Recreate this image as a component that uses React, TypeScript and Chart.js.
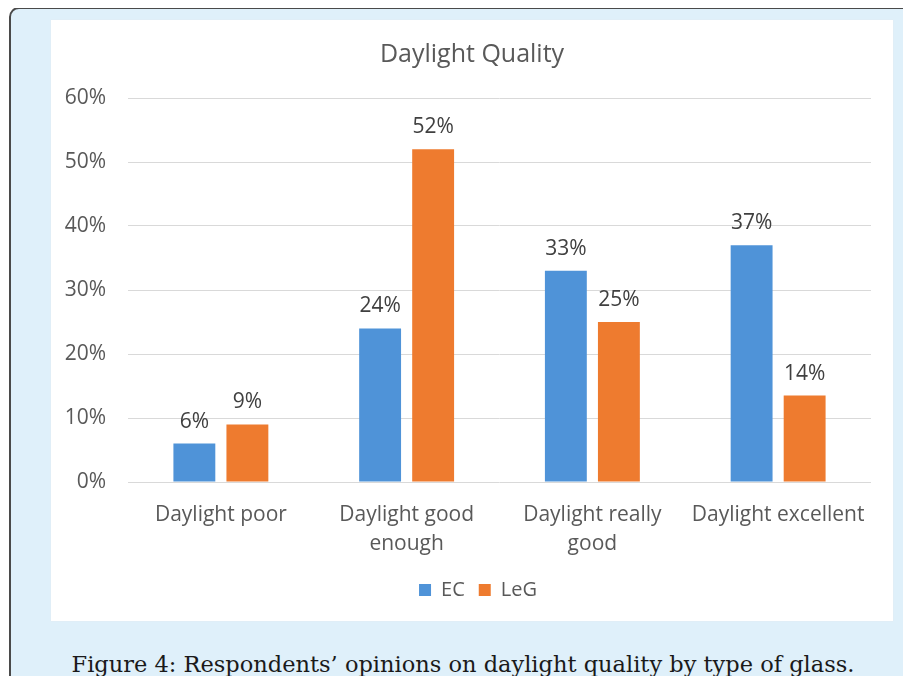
import React, { useEffect, useRef } from "react";
import { Chart, registerables } from "chart.js";

Chart.register(...registerables);

const chartTitle = "Daylight Quality";
const categories: string[][] = [
  ["Daylight poor"],
  ["Daylight good", "enough"],
  ["Daylight really", "good"],
  ["Daylight excellent"],
];
const seriesNames = ["EC", "LeG"];
const ecValues = [0.06, 0.24, 0.33, 0.37];
const legValues = [0.09, 0.52, 0.25, 0.135];
const ecLabels = ["6%", "24%", "33%", "37%"];
const legLabels = ["9%", "52%", "25%", "14%"];
const yTicks = [0, 0.1, 0.2, 0.3, 0.4, 0.5, 0.6];

const FONT = "'Open Sans', sans-serif";

const extrasPlugin = {
  id: "extras",
  afterLayout(chart: any) {
    if (chart.legend) {
      chart.legend.left += 17;
      chart.legend.right += 17;
    }
  },
  afterDraw(chart: any) {
    const ctx = chart.ctx;
    ctx.save();
    ctx.font = `25px ${FONT}`;
    ctx.fillStyle = "#595959";
    ctx.textAlign = "center";
    ctx.textBaseline = "middle";
    ctx.fillText(chartTitle, chart.width / 2, 35);
    ctx.restore();
  },
  afterDatasetsDraw(chart: any) {
    const ctx = chart.ctx;
    const texts = [ecLabels, legLabels];
    ctx.save();
    ctx.font = `21px ${FONT}`;
    ctx.fillStyle = "#404040";
    ctx.textAlign = "center";
    ctx.textBaseline = "middle";
    chart.data.datasets.forEach((ds: any, di: number) => {
      const meta = chart.getDatasetMeta(di);
      meta.data.forEach((bar: any, i: number) => {
        ctx.fillText(texts[di][i], bar.x, bar.y - 22);
      });
    });
    ctx.restore();
  },
};

function ChartView() {
  const ref = useRef<HTMLCanvasElement>(null);
  useEffect(() => {
    if (!ref.current) return;
    const chart = new Chart(ref.current, {
      type: "bar",
      data: {
        labels: categories,
        datasets: [
          {
            label: seriesNames[0],
            data: ecValues,
            backgroundColor: "#4f93d8",
            barPercentage: 0.79,
            categoryPercentage: 0.571,
          },
          {
            label: seriesNames[1],
            data: legValues,
            backgroundColor: "#ee7b2f",
            barPercentage: 0.79,
            categoryPercentage: 0.571,
          },
        ],
      },
      options: {
        animation: false,
        responsive: false,
        maintainAspectRatio: false,
        layout: { padding: { top: 78, left: 0, right: 22, bottom: 11 } },
        plugins: {
          title: { display: false },
          legend: {
            position: "bottom",
            labels: {
              boxWidth: 12,
              boxHeight: 12,
              padding: 14,
              color: "#595959",
              font: { family: FONT, size: 20 },
            },
          },
          tooltip: { enabled: false },
        },
        scales: {
          x: {
            grid: { display: false, drawTicks: false },
            border: { display: false },
            ticks: {
              color: "#595959",
              padding: 19,
              font: { family: FONT, size: 21, lineHeight: 1.38 },
              maxRotation: 0,
              autoSkip: false,
            },
            afterFit: (s: any) => {
              s.height = 84;
            },
          },
          y: {
            min: 0,
            max: 0.6,
            afterBuildTicks: (s: any) => {
              s.ticks = yTicks.map((v) => ({ value: v }));
            },
            grid: { color: "#d9d9d9", drawTicks: false },
            border: { display: false },
            ticks: {
              color: "#595959",
              padding: 22,
              font: { family: FONT, size: 21 },
              callback: (v: any) => `${Math.round(Number(v) * 100)}%`,
            },
            afterFit: (s: any) => {
              s.width = 77;
            },
          },
        },
      },
      plugins: [extrasPlugin],
    });
    return () => chart.destroy();
  }, []);
  return <canvas ref={ref} width={842} height={601} style={{ display: "block" }} />;
}

export default function App() {
  return (
    <div
      style={{
        position: "relative",
        margin: -8,
        width: 911,
        height: 684,
        overflow: "hidden",
        background: "#ffffff",
      }}
    >
      <div
        style={{
          position: "absolute",
          left: 9,
          top: 7,
          width: 930,
          height: 720,
          boxSizing: "border-box",
          border: "2px solid #4a4a4a",
          borderRadius: 10,
          background: "#dff0fa",
        }}
      />
      <div
        style={{
          position: "absolute",
          left: 51,
          top: 20,
          width: 842,
          height: 601,
          background: "#ffffff",
          boxShadow: "0 0 1px #e6e6e6",
        }}
      >
        <ChartView />
      </div>
      <div
        style={{
          position: "absolute",
          left: 0,
          width: 926,
          top: 648,
          textAlign: "center",
          fontFamily: "'DejaVu Serif', serif",
          fontSize: 22.5,
          lineHeight: "32px",
          color: "#1a1a1a",
          whiteSpace: "nowrap",
        }}
      >
        Figure 4: Respondents’ opinions on daylight quality by type of glass.
      </div>
    </div>
  );
}
